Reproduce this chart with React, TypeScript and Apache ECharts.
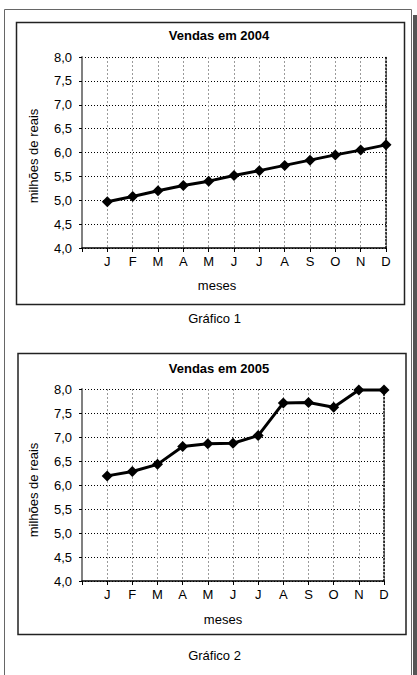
import React, { useEffect, useRef } from "react";
import * as echarts from "echarts";

const months = ["J", "F", "M", "A", "M", "J", "J", "A", "S", "O", "N", "D"];
const sales2004 = [4.97, 5.08, 5.2, 5.31, 5.4, 5.52, 5.62, 5.73, 5.84, 5.95, 6.05, 6.16];
const sales2005 = [6.19, 6.28, 6.43, 6.8, 6.86, 6.87, 7.03, 7.71, 7.72, 7.62, 7.98, 7.98];
const titles = ["Vendas em 2004", "Vendas em 2005"];
const captions = ["Gráfico 1", "Gráfico 2"];
const yAxisName = "milhões de reais";
const xAxisName = "meses";

const FONT = "'Liberation Sans', Arial, sans-serif";

export default function App() {
  const ref = useRef<HTMLDivElement>(null);
  useEffect(() => {
    if (!ref.current) return;
    const chart = echarts.init(ref.current, null, { renderer: "svg" });

    const grids = [
      { left: 82, top: 57, width: 304, height: 191 },
      { left: 82, top: 389, width: 302, height: 192 },
    ];

    const xAxes: any[] = [];
    const yAxes: any[] = [];
    const series: any[] = [];
    const datasets = [sales2004, sales2005];

    grids.forEach((g, i) => {
      xAxes.push({
        type: "value",
        gridIndex: i,
        min: 0,
        max: 12,
        interval: 1,
        axisLine: { show: true, onZero: false, lineStyle: { color: "#000", width: 1.5 } },
        axisTick: { show: true, length: 4, lineStyle: { color: "#000", width: 1 } },
        axisLabel: {
          margin: 7,
          color: "#000",
          fontFamily: FONT,
          fontSize: 13,
          formatter: (v: number) => (v >= 1 && v <= 12 ? months[v - 1] : ""),
        },
        splitLine: { show: true, lineStyle: { color: "#9a9a9a", type: [2, 2], width: 1 } },
      });
      yAxes.push({
        type: "value",
        gridIndex: i,
        min: 4,
        max: 8,
        interval: 0.5,
        position: "left",
        axisLine: { show: true, lineStyle: { color: "#808080", width: 2 } },
        axisTick: { show: true, length: 3, lineStyle: { color: "#000" } },
        axisLabel: {
          margin: 10,
          color: "#000",
          fontFamily: FONT,
          fontSize: 13,
          formatter: (v: number) => v.toFixed(1).replace(".", ","),
        },
        splitLine: { show: true, lineStyle: { color: "#000", type: [1, 2], width: 1 } },
      });
      yAxes.push({
        type: "value",
        gridIndex: i,
        min: 4,
        max: 8,
        interval: 0.5,
        position: "right",
        axisLine: { show: true, lineStyle: { color: "#000", type: [1.5, 2], width: 1.5 } },
        axisTick: { show: false },
        axisLabel: { show: false },
        splitLine: { show: false },
      });
      series.push({
        type: "line",
        xAxisIndex: i,
        yAxisIndex: i * 2,
        data: datasets[i].map((v, k) => [k + 1, v]),
        clip: false,
        symbol: "diamond",
        symbolSize: 11,
        lineStyle: { color: "#000", width: 3 },
        itemStyle: { color: "#000" },
      });
    });

    const textStyle = (text: string, bold = false) => ({
      text,
      fill: "#000",
      font: `${bold ? "bold " : ""}13px ${FONT}`,
      align: "center",
      verticalAlign: "middle",
    });

    const graphic: any[] = [
      // right shadow of page
      { type: "rect", shape: { x: 413, y: 15, width: 4, height: 660 }, style: { fill: "#555" }, z: -1 },
      // page frame
      {
        type: "rect",
        shape: { x: 4.5, y: 9.5, width: 407, height: 700 },
        style: { fill: "#fff", stroke: "#666", lineWidth: 1 },
        z: -2,
      },
      // chart boxes
      {
        type: "rect",
        shape: { x: 16.5, y: 22.5, width: 388, height: 282 },
        style: { fill: "none", stroke: "#222", lineWidth: 1.5 },
      },
      {
        type: "rect",
        shape: { x: 18, y: 353.5, width: 388, height: 281 },
        style: { fill: "none", stroke: "#222", lineWidth: 1.5 },
      },
      { type: "text", x: 219, y: 35, style: textStyle(titles[0], true) },
      { type: "text", x: 219, y: 368, style: textStyle(titles[1], true) },
      { type: "text", x: 33, y: 156, rotation: Math.PI / 2, style: textStyle(yAxisName) },
      { type: "text", x: 33, y: 490, rotation: Math.PI / 2, style: textStyle(yAxisName) },
      { type: "text", x: 217, y: 285, style: textStyle(xAxisName) },
      { type: "text", x: 223, y: 619, style: textStyle(xAxisName) },
      { type: "text", x: 214.5, y: 318, style: textStyle(captions[0]) },
      { type: "text", x: 214.5, y: 655, style: textStyle(captions[1]) },
    ];

    chart.setOption({
      animation: false,
      backgroundColor: "#fff",
      grid: grids,
      xAxis: xAxes,
      yAxis: yAxes,
      series,
      graphic,
    });
    return () => chart.dispose();
  }, []);

  return (
    <div
      ref={ref}
      style={{ position: "fixed", left: 0, top: 0, width: 417, height: 675, background: "#fff" }}
    />
  );
}
